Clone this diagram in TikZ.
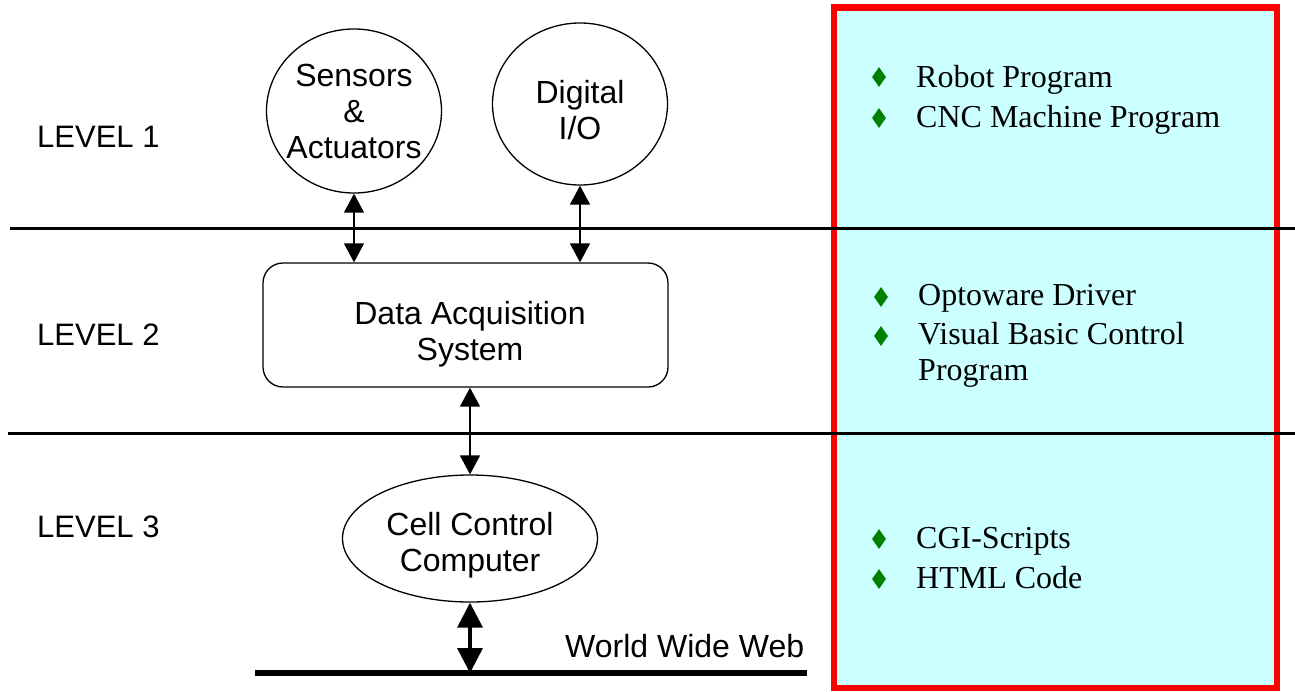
\documentclass[tikz,border=0pt]{standalone}
\usepackage{fontspec}
\setmainfont{Liberation Serif}
\setsansfont{Liberation Sans}
\usepackage{tikz}
\usetikzlibrary{shapes, arrows.meta}

\definecolor{panelcyan}{RGB}{204,255,255}
\definecolor{panelred}{RGB}{255,0,0}
\definecolor{bulletgreen}{RGB}{0,128,0}

\begin{document}
\begin{tikzpicture}[x=1pt, y=-1pt,
  blob/.style={ellipse, draw, line width=1.3pt, inner sep=0pt},
  daqbox/.style={rectangle, rounded corners=20pt, draw, line width=1.3pt},
  boxtext/.style={inner sep=0pt, align=center, font=\sffamily\fontsize{32}{36}\selectfont},
  levellabel/.style={anchor=base west, inner sep=0pt, font=\sffamily\fontsize{31}{36}\selectfont},
  item/.style={anchor=base west, inner sep=0pt, font=\rmfamily\fontsize{32}{40}\selectfont},
  bul/.style={diamond, fill=bulletgreen, inner sep=0pt, minimum width=14pt, minimum height=20pt},
  link/.style={line width=1.5pt, {Triangle[length=19pt,width=20pt]}-{Triangle[length=19pt,width=20pt]}},
  biglink/.style={line width=3.5pt, {Triangle[length=25pt,width=25pt]}-{Triangle[length=25pt,width=25pt]}}
]
\useasboundingbox (0,0) rectangle (1295,691);

% right hand panel
\draw[fill=panelcyan, draw=panelred, line width=6.5pt] (834,7.5) rectangle (1277,688);

% level dividers
\coordinate (divAl) at (10,228);
\coordinate (divAr) at (1295,228);
\coordinate (divBl) at (8,433);
\coordinate (divBr) at (1295,433);
\draw[line width=3pt] (divAl) -- (divAr);
\draw[line width=3pt] (divBl) -- (divBr);

\node[levellabel] (lvl1) at (37,147) {LEVEL 1};
\node[levellabel] (lvl2) at (37,345) {LEVEL 2};
\node[levellabel] (lvl3) at (37,537) {LEVEL 3};

% diagram
\node[blob, minimum width=175pt, minimum height=164pt] (sens) at (354,111) {};
\node[boxtext] (senstxt) at (354,111) {Sensors\\\&\\Actuators};
\node[blob, minimum width=175pt, minimum height=162pt] (dio) at (580,104) {};
\node[boxtext] (diotxt) at (580,110) {Digital\\I/O};
\node[daqbox, minimum width=405pt, minimum height=124pt] (daq) at (465.5,325) {};
\node[boxtext] (daqtxt) at (470,334) {Data Acquisition\\System};
\node[blob, minimum width=255pt, minimum height=127pt] (ccc) at (470,538.5) {};
\node[boxtext] (ccctxt) at (470,545.5) {Cell Control\\Computer};

\coordinate (webL) at (255,673);
\coordinate (webR) at (807,673);
\draw[line width=6pt] (webL) -- (webR);
\node[anchor=base west, inner sep=0pt, font=\sffamily\fontsize{32}{36}\selectfont] (www) at (565,657) {World Wide Web};

\draw[link] (sens.south) -- (sens.south |- daq.north);
\draw[link] (dio.south) -- (dio.south |- daq.north);
\draw[link] (ccc.north |- daq.south) -- (ccc.north);
\draw[biglink] (ccc.south) -- (ccc.south |- webL);

% panel lists
\node[bul] (b1) at (879,77) {};
\node[bul] (b2) at (879,118) {};
\node[item] (rob) at (916,87) {Robot Program};
\node[item] (cnc) at (916,127) {CNC Machine Program};

\node[bul] (b3) at (881,297) {};
\node[bul] (b4) at (881,336) {};
\node[item] (opto) at (918,305) {Optoware Driver};
\node[item] (vb) at (918,344) {Visual Basic Control};
\node[item] (vbp) at (918,380) {Program};

\node[bul] (b5) at (879,539) {};
\node[bul] (b6) at (879,579) {};
\node[item] (cgi) at (916,548) {CGI-Scripts};
\node[item] (html) at (916,588) {HTML Code};
\end{tikzpicture}
\end{document}
